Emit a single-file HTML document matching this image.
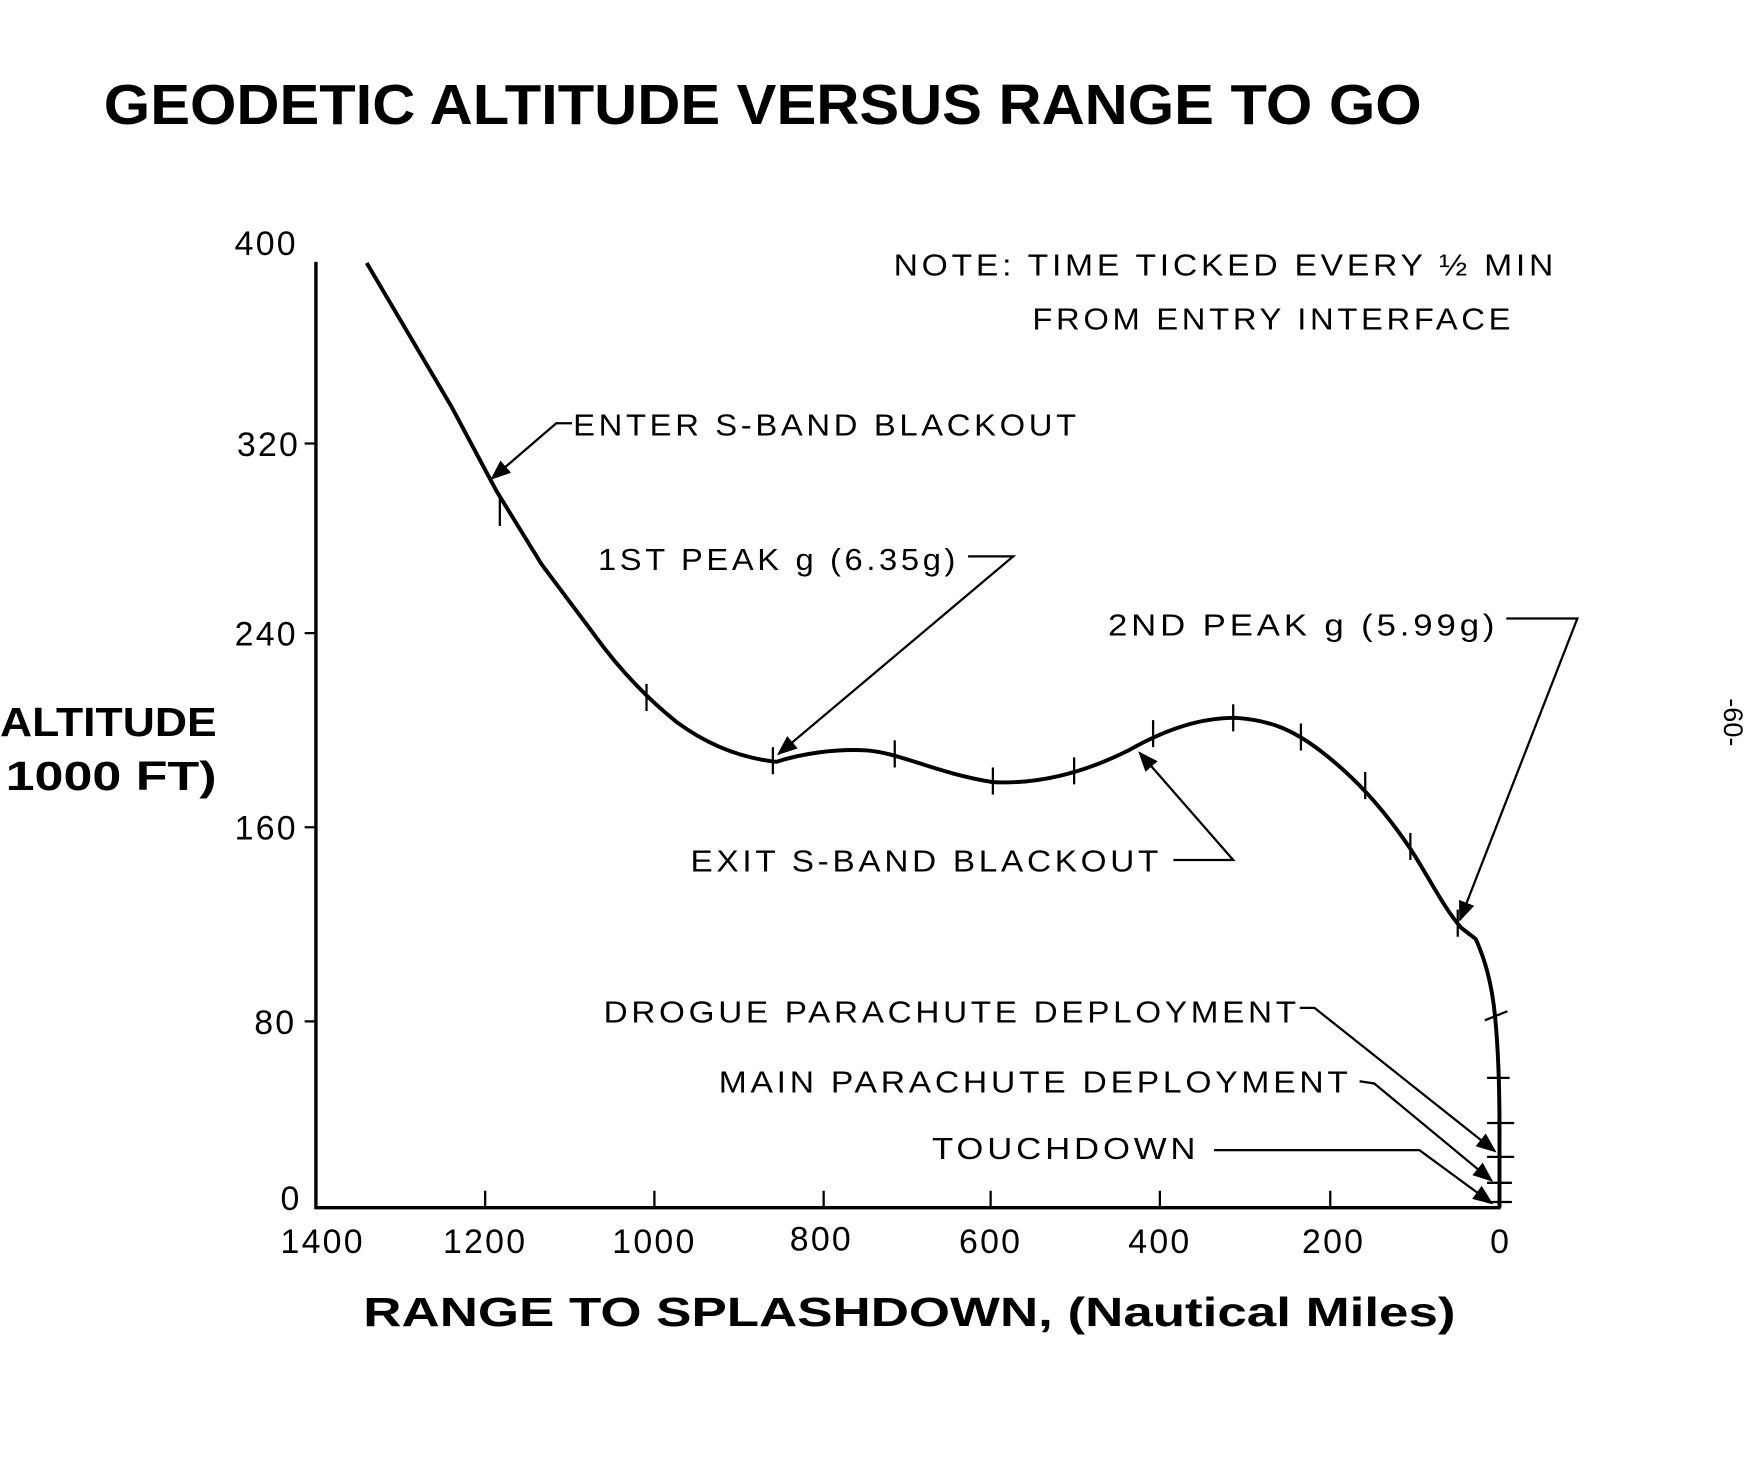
<!DOCTYPE html>
<html><head><style>html,body{margin:0;padding:0;background:#fff}svg{display:block}</style></head>
<body>
<svg width="1759" height="1474" viewBox="0 0 1559 1306" preserveAspectRatio="none" xmlns="http://www.w3.org/2000/svg" font-family="Liberation Sans, sans-serif" fill="#000">
<defs><marker id="a" viewBox="0 0 10 10" refX="9" refY="5" markerWidth="9" markerHeight="9" orient="auto-start-reverse"><path d="M0,1 L10,5 L0,9 z"/></marker></defs>
<text x="92" y="110" font-size="50" font-weight="bold" textLength="1168" lengthAdjust="spacingAndGlyphs">GEODETIC ALTITUDE VERSUS RANGE TO GO</text>
<path d="M280,232 L280,1070 L1330,1070" stroke="#000" stroke-width="3" fill="none"/>
<g stroke="#000" stroke-width="2">
<path d="M270,393H280M270,561H280M270,733H280M270,905H280"/>
<path d="M430,1055V1070M580,1055V1070M730,1055V1070M878,1055V1070M1028,1055V1070M1179,1055V1070"/>
</g>
<g font-size="30" text-anchor="middle" letter-spacing="2">
<text x="236" y="226">400</text><text x="238" y="404">320</text><text x="236" y="572">240</text><text x="236" y="744">160</text><text x="244" y="916">80</text><text x="258" y="1072">0</text>
<text x="286" y="1110">1400</text><text x="430" y="1110">1200</text><text x="580" y="1110">1000</text><text x="728" y="1108">800</text><text x="878" y="1110">600</text><text x="1028" y="1110">400</text><text x="1182" y="1110">200</text><text x="1330" y="1110">0</text>
</g>
<text x="322" y="1175" font-size="36" font-weight="bold" textLength="968" lengthAdjust="spacingAndGlyphs">RANGE TO SPLASHDOWN, (Nautical Miles)</text>
<text x="0" y="652" font-size="36" font-weight="bold" textLength="192" lengthAdjust="spacingAndGlyphs">ALTITUDE</text>
<text x="5" y="700" font-size="36" font-weight="bold" textLength="187" lengthAdjust="spacingAndGlyphs">1000 FT)</text>
<text transform="translate(1528,640) rotate(90)" font-size="24" text-anchor="middle">-60-</text>
<path d="M325,233 L400,360 L440,435 L480,500 L525,560 C550,595 575,620 600,640 C630,662 660,672 688,675 C710,668 740,663 770,665 C800,668 830,685 880,693 C920,695 960,685 1000,665 C1035,645 1065,636 1095,636 C1125,638 1145,646 1170,665 C1200,688 1225,715 1250,752 C1265,775 1280,805 1295,822 L1308,832 C1316,850 1322,870 1325,900 C1328,930 1329,960 1329,1000 L1329,1070" fill="none" stroke="#000" stroke-width="3.5"/>
<g stroke="#000" stroke-width="2">
<path d="M443,440V466M573,606V630M685,662V686M793,656V680M880,680V704M952,671V695M1022,638V662M1093,624V648M1153,641V665M1210,684V708M1250,738V762M1292,806V830M1316,904L1336,896"/>
<path d="M1318,955H1338M1318,995H1342M1318,1025H1342M1318,1048H1340M1318,1065H1340"/>
</g>
<g font-size="27" letter-spacing="3">
<text x="792" y="244" textLength="588" lengthAdjust="spacingAndGlyphs">NOTE: TIME TICKED EVERY ½ MIN</text>
<text x="915" y="292" textLength="427" lengthAdjust="spacingAndGlyphs">FROM ENTRY INTERFACE</text>
<text x="508" y="386" textLength="449" lengthAdjust="spacingAndGlyphs">ENTER S-BAND BLACKOUT</text>
<text x="530" y="505" textLength="320" lengthAdjust="spacingAndGlyphs">1ST PEAK g (6.35g)</text>
<text x="982" y="563" textLength="346" lengthAdjust="spacingAndGlyphs">2ND PEAK g (5.99g)</text>
<text x="612" y="772" textLength="418" lengthAdjust="spacingAndGlyphs">EXIT S-BAND BLACKOUT</text>
<text x="535" y="906" textLength="617" lengthAdjust="spacingAndGlyphs">DROGUE PARACHUTE DEPLOYMENT</text>
<text x="637" y="968" textLength="561" lengthAdjust="spacingAndGlyphs">MAIN PARACHUTE DEPLOYMENT</text>
<text x="826" y="1027" textLength="237" lengthAdjust="spacingAndGlyphs">TOUCHDOWN</text>
</g>
<g stroke="#000" stroke-width="2" fill="none" marker-end="url(#a)">
<path d="M507,375 L493,375 L436,424"/>
<path d="M858,493 L898,493 L690,668"/>
<path d="M1335,548 L1398,548 L1294,815"/>
<path d="M1040,762 L1093,762 L1010,667"/>
<path d="M1152,893 L1165,893 L1325,1020"/>
<path d="M1205,958 L1218,960 L1322,1046"/>
<path d="M1076,1019 L1258,1019 L1322,1066"/>
</g>
</svg>
</body></html>
